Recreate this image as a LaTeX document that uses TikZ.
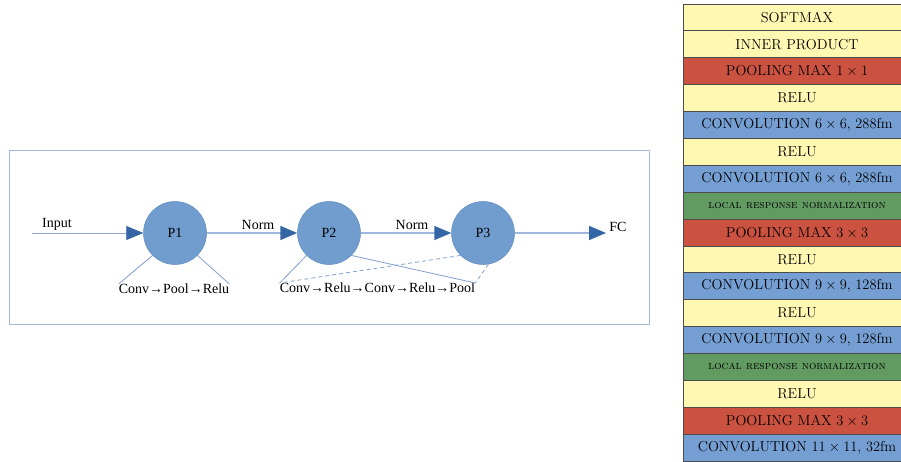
\documentclass[tikz,border=0pt]{standalone}
\usepackage{fontspec}
\newfontfamily\diagfont{Liberation Serif}
\usetikzlibrary{arrows.meta}
\definecolor{circblue}{RGB}{112,156,206}
\definecolor{circedge}{RGB}{96,140,194}
\definecolor{lineblue}{RGB}{160,184,222}
\definecolor{tipblue}{RGB}{52,101,164}
\definecolor{frameblue}{RGB}{163,184,219}
\definecolor{lyellow}{RGB}{255,248,178}
\definecolor{lred}{RGB}{203,82,64}
\definecolor{lblue}{RGB}{117,159,210}
\definecolor{lgreen}{RGB}{98,155,98}
\tikzset{
  stage/.style={circle, minimum size=63pt, inner sep=0pt, fill=circblue, draw=circedge, line width=0.5pt, font=\diagfont\fontsize{14}{16}\selectfont},
  lbl/.style={inner sep=0pt, font=\diagfont\fontsize{14}{16}\selectfont},
  flow/.style={lineblue, line width=1.6pt, -{Triangle[length=17pt,width=14pt,color=tipblue]}},
  thinflow/.style={lineblue!80!tipblue, line width=0.8pt, -{Triangle[length=17pt,width=14pt,color=tipblue]}},
  sub/.style={lineblue!70!tipblue, line width=0.8pt},
  subdash/.style={sub, dash pattern=on 4pt off 3pt},
  layer/.style={draw=black!70, line width=0.8pt, minimum width=227pt, minimum height=26.88pt, inner sep=0pt, font=\fontsize{14.4}{17}\selectfont},
  lrn/.style={layer, fill=lgreen, font=\fontsize{11.6}{13}\selectfont\scshape}
}
\begin{document}
\begin{tikzpicture}[x=1pt, y=-1pt]
			%%%%% START %%%%%
			\useasboundingbox (0,0) rectangle (901,462);
			
			\draw[frameblue, line width=0.8pt] (9.5,150) rectangle (649.5,324);
			
			\node[stage] (P1) at (175,233) {P1};
			\node[stage] (P2) at (329,233) {P2};
			\node[stage] (P3) at (483,233) {P3};
			
			\coordinate (in) at (32,233);
			\coordinate (out) at (606,233);
			
			\node[lbl] (input) at (57,224) {Input};
			\node[lbl] (norm1) at (258,225) {Norm};
			\node[lbl] (norm2) at (412,225) {Norm};
			\node[lbl] (fc) at (618,227) {FC};
			
			\draw[thinflow] (in) -- (P1);
			\draw[flow] (P1) -- (P2);
			\draw[flow] (P2) -- (P3);
			\draw[flow] (P3) -- (out);
			
			\node[lbl, anchor=north] (ops1) at (174,284) {Conv→Pool→Relu};
			\node[lbl, anchor=north] (ops2) at (377.5,283) {Conv→Relu→Conv→Relu→Pool};
			
			\draw[sub] (P1.south west) -- (ops1.north west);
			\draw[sub] (P1.south east) -- (ops1.north east);
			\draw[sub] (P2.south west) -- (ops2.north west);
			\draw[sub] (P2.south east) -- (ops2.north east);
			\draw[subdash] (P3.south west) -- (ops2.north west);
			\draw[subdash] (P3.-80) -- (ops2.north east);
			
			% layer stack, top to bottom
			\node[layer, fill=lyellow] (softmax) at (797,17.44) {SOFTMAX};
			\node[layer, fill=lyellow] (inner) at (797,44.32) {INNER PRODUCT};
			\node[layer, fill=lred] (poolc) at (797,71.2) {POOLING MAX $1\times1$};
			\node[layer, fill=lyellow] (reluf) at (797,98.08) {RELU};
			\node[layer, fill=lblue] (convf) at (797,124.96) {CONVOLUTION $6\times6$, 288fm};
			\node[layer, fill=lyellow] (relue) at (797,151.84) {RELU};
			\node[layer, fill=lblue] (conve) at (797,178.72) {CONVOLUTION $6\times6$, 288fm};
			\node[lrn] (lrnb) at (797,205.6) {local response normalization};
			\node[layer, fill=lred] (poolb) at (797,232.48) {POOLING MAX $3\times3$};
			\node[layer, fill=lyellow] (relud) at (797,259.36) {RELU};
			\node[layer, fill=lblue] (convd) at (797,286.24) {CONVOLUTION $9\times9$, 128fm};
			\node[layer, fill=lyellow] (reluc) at (797,313.12) {RELU};
			\node[layer, fill=lblue] (convc) at (797,340) {CONVOLUTION $9\times9$, 128fm};
			\node[lrn] (lrna) at (797,366.88) {local response normalization};
			\node[layer, fill=lyellow] (relub) at (797,393.76) {RELU};
			\node[layer, fill=lred] (poola) at (797,420.64) {POOLING MAX $3\times3$};
			\node[layer, fill=lblue] (conva) at (797,447.52) {CONVOLUTION $11\times11$, 32fm};
			
			%%%%% END %%%%%
\end{tikzpicture}
\end{document}
